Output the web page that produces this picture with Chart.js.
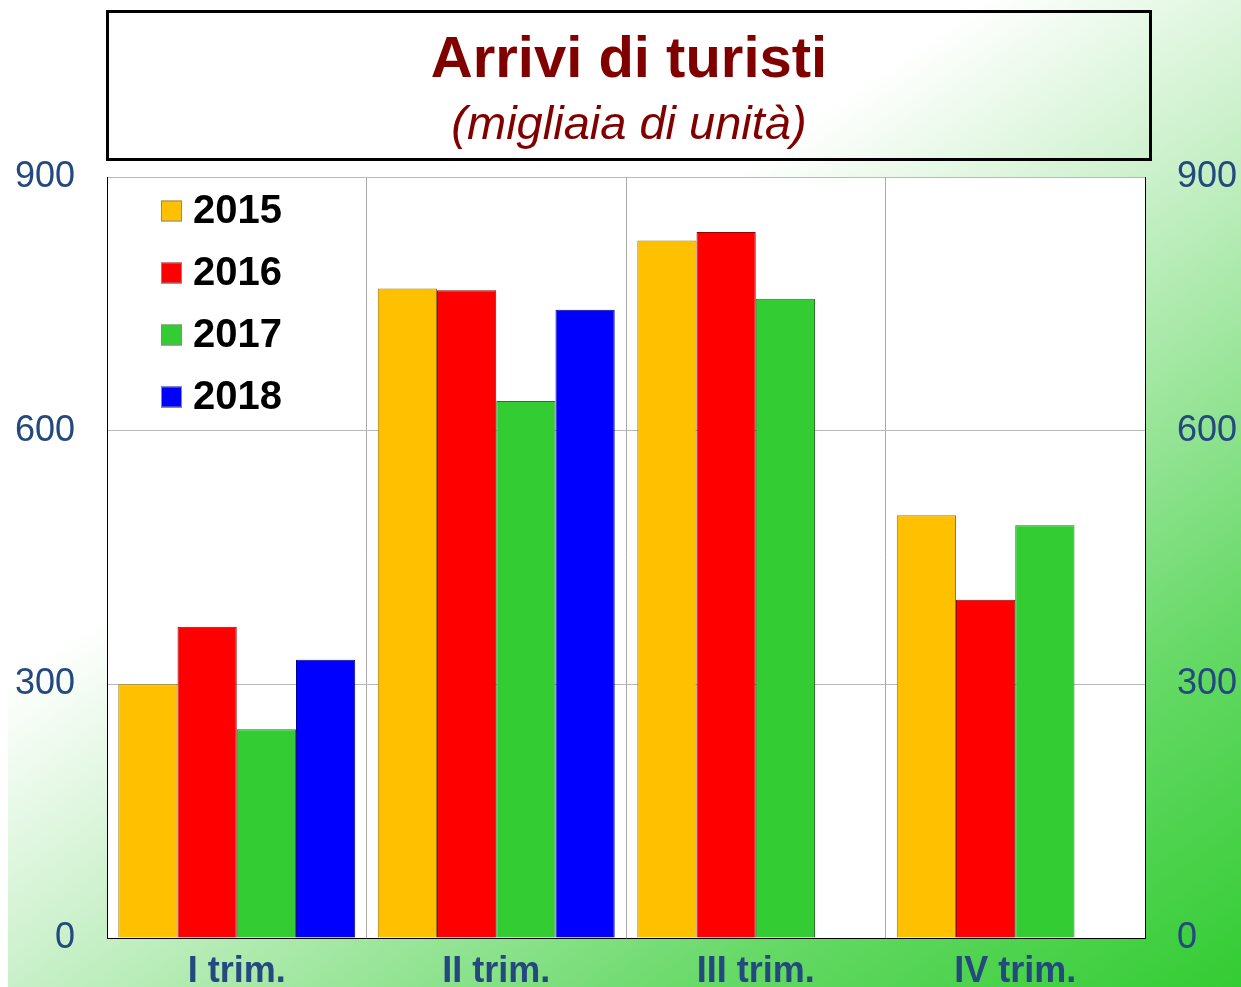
<!DOCTYPE html>
<html lang="it">
<head>
<meta charset="utf-8">
<title>Arrivi di turisti</title>
<script src="https://cdn.jsdelivr.net/npm/chart.js@4.4.1/dist/chart.umd.min.js"></script>
<style>
  html, body { margin:0; padding:0; overflow:hidden; background:#fff; }
  #wrap { position:relative; width:1241px; height:987px; }
  #c { position:absolute; left:0; top:0; }
  #box { position:absolute; left:106px; top:10px; width:1046px; height:151px;
         box-sizing:border-box; border:3px solid #000; }
  .t { position:absolute; left:106px; width:1046px; text-align:center;
       font-family:"Liberation Sans", Arial, sans-serif; color:#800000; white-space:nowrap; }
  #t1 { top:28px; font-size:58px; line-height:58px; font-weight:bold; }
  #t2 { top:99px; font-size:47px; line-height:47px; font-style:italic; }
</style>
</head>
<body>
<div id="wrap">
  <canvas id="c" width="1241" height="987"></canvas>
  <div id="box"></div>
  <div class="t" id="t1">Arrivi di turisti</div>
  <div class="t" id="t2">(migliaia di unità)</div>
</div>
<script>
// --- dati (migliaia di unità) ---
const trimestri = ['I trim.', 'II trim.', 'III trim.', 'IV trim.'];
const anni      = ['2015', '2016', '2017', '2018'];
const v2015 = [300, 768, 825, 500];
const v2016 = [368, 766, 835, 400];
const v2017 = [247, 635, 756, 488];
const v2018 = [329, 743, null, null];
const yTicks = [0, 300, 600, 900];

const colori  = ['#FFC000', '#FF0000', '#33CC33', '#0000FF'];
const bordi   = ['#9C7A00', '#990000', '#1E7A1E', '#000099'];

const FONT = '"Liberation Sans", Arial, sans-serif';
const BLU = '#24497E';

// sfondo sfumato + area bianca
const sfondo = {
  id: 'sfondo',
  beforeDraw(chart){
    const {ctx, chartArea:a} = chart;
    ctx.save();
    const g = ctx.createLinearGradient(0, 0, 872, 1245);
    g.addColorStop(0, '#ffffff');
    g.addColorStop(0.37, '#ffffff');
    g.addColorStop(0.534, '#c9f0c9');
    g.addColorStop(0.8, '#66d966');
    g.addColorStop(1, '#33cc33');
    ctx.fillStyle = g;
    ctx.fillRect(0, 0, chart.width, chart.height);
    ctx.fillStyle = '#ffffff';
    ctx.fillRect(0, 0, 8, chart.height);
    ctx.fillRect(a.left, a.top, a.right - a.left, a.bottom - a.top);
    ctx.restore();
  }
};

// legenda dentro l'area del grafico
const legenda = {
  id: 'legenda',
  afterDatasetsDraw(chart){
    const ctx = chart.ctx;
    ctx.save();
    ctx.font = 'bold 40px ' + FONT;
    ctx.textBaseline = 'middle';
    chart.data.datasets.forEach((ds, i) => {
      const yc = 211 + i*62;
      ctx.fillStyle = ds.backgroundColor;
      ctx.fillRect(161, yc - 10.5, 21, 21);
      ctx.strokeStyle = '#8a8a8a';
      ctx.lineWidth = 1;
      ctx.strokeRect(161.5, yc - 10, 20, 20);
      ctx.fillStyle = '#000';
      ctx.fillText(ds.label, 193, yc + 1);
    });
    ctx.restore();
  }
};

const serie = [v2015, v2016, v2017, v2018];

// asse y: larghezza fissa, niente margine extra in basso
const fitY = (w) => (s) => { s.width = w; s.paddingTop = 0; s.paddingBottom = 0; };

new Chart(document.getElementById('c'), {
  type: 'bar',
  data: {
    labels: trimestri,
    datasets: serie.map((d, i) => ({
      label: anni[i],
      data: d,
      backgroundColor: colori[i],
      borderColor: bordi[i],
      borderWidth: 1,
      categoryPercentage: 0.913,
      barPercentage: 1.0
    }))
  },
  options: {
    responsive: false,
    animation: false,
    layout: { padding: { top: 177, left: 0, right: 0, bottom: 0 } },
    plugins: { legend: { display: false }, tooltip: { enabled: false }, title: { display: false } },
    scales: {
      x: {
        grid: { color: '#a8a8a8', offset: true, drawTicks: false },
        border: { color: '#000', width: 1 },
        ticks: { color: BLU, font: { family: FONT, size: 36, weight: 'bold' }, padding: 12 },
        afterFit(s){ s.height = 49; }
      },
      y: {
        position: 'left',
        min: 0, max: 900,
        afterBuildTicks(s){ s.ticks = yTicks.map(v => ({ value: v })); },
        grid: { color: '#b8b8b8', drawTicks: false },
        border: { color: '#000', width: 1 },
        ticks: { color: BLU, font: { family: FONT, size: 36 }, padding: 32 },
        afterFit: fitY(107)
      },
      y2: {
        position: 'right',
        min: 0, max: 900,
        afterBuildTicks(s){ s.ticks = yTicks.map(v => ({ value: v })); },
        grid: { display: false, drawTicks: false },
        border: { color: '#000', width: 1 },
        ticks: { color: BLU, font: { family: FONT, size: 36 }, padding: 32 },
        afterFit: fitY(96)
      }
    }
  },
  plugins: [sfondo, legenda]
});
</script>
</body>
</html>
